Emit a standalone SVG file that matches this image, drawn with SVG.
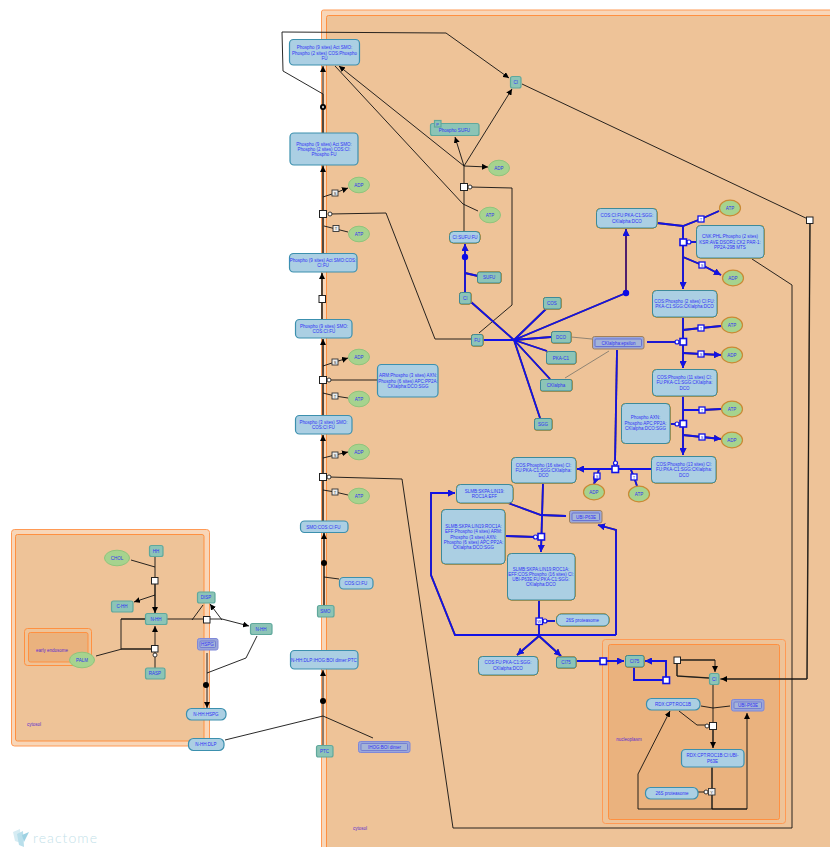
<svg xmlns="http://www.w3.org/2000/svg" width="830" height="847" viewBox="0 0 830 847">
<style>
text{font-family:"Liberation Sans",Arial,sans-serif;font-size:4.500px;fill:#3030f5;text-anchor:middle}
.co1{fill:#f8d6b8;stroke:#ff9a55;stroke-width:1}
.co2{fill:#eec398;stroke:#ff9040;stroke-width:1}
.co3{fill:#eab27e;stroke:#ff9040;stroke-width:1}
.lab{fill:#5a2bd0;text-anchor:middle}
.cx rect{fill:#abcfe3;stroke:#3c90ae;stroke-width:1.2}
.pr rect{fill:#8cc4b6;stroke:#5fa89c;stroke-width:1.2}
.sm ellipse{fill:#a6d38e;stroke:#8fc47c;stroke-width:1}
.st rect{fill:#9aa6da;stroke:#7f88d8;stroke-width:1}
.st rect+rect{fill:#a4b4d8;stroke:#6a74d0;stroke-width:.8}
.f ellipse{stroke:#c98a34;stroke-width:1.2}
.f.cx rect,.f.pr rect{stroke:#3d8a9a;stroke-width:1;filter:drop-shadow(0 0 .6px #f08a00) drop-shadow(0 0 .4px #f08a00)}
.f.st rect{stroke:#a0805c}
.f.st rect+rect{stroke:#5a64d0}
.k path{fill:none;stroke:#111;stroke-width:.9}
.kb path{fill:none;stroke:#6b5a45;stroke-width:1.5}
.b path{fill:none;stroke:#1212e6;stroke-width:1.800;filter:drop-shadow(0 0 .5px #7a4a10)}
.g path{fill:none;stroke:#77736a;stroke-width:.8}
.s{fill:#fff;stroke:#222;stroke-width:1}
.sb{fill:#fff;stroke:#1212e6;stroke-width:1.6}
.c{fill:#fff;stroke:#222;stroke-width:.9}
.cb{fill:#fff;stroke:#1212e6;stroke-width:1.2}
.t{fill:#eee;stroke:#333;stroke-width:.9}
.tb{fill:#fff;stroke:#1212e6;stroke-width:1.3}
.d{fill:#000}
.db{fill:#0a0ae6}
.tt{font-size:4px;fill:#333}
.ttb{font-size:4px;fill:#2222e0}
</style>
<defs>
<marker id="ak" viewBox="0 0 6 6" refX="6" refY="3" markerWidth="6" markerHeight="6" markerUnits="userSpaceOnUse" orient="auto"><path d="M0 0L6 3L0 6z" fill="#000"/></marker>
<marker id="ab" viewBox="0 0 6 6" refX="6" refY="3" markerWidth="7" markerHeight="7" markerUnits="userSpaceOnUse" orient="auto"><path d="M0 0L6 3L0 6z" fill="#1212e6"/></marker>
</defs>
<g id="compartments">
<rect class="co1" x="321.500" y="10" width="530" height="860" rx="2"/>
<rect class="co2" x="326.500" y="15.500" width="520" height="850" rx="2"/>
<rect class="co1" x="11.500" y="529.500" width="198" height="216.500" rx="3"/>
<rect class="co2" x="15.500" y="534.500" width="188.500" height="206.500" rx="2"/>
<rect class="co2" x="24.500" y="628.500" width="67" height="37" rx="3"/>
<rect class="co3" x="28.500" y="632.500" width="59.500" height="29.500" rx="2"/>
<rect class="co1" x="602.500" y="639.500" width="183" height="184" rx="3" style="fill:#eec398"/>
<rect class="co3" x="608.500" y="644.500" width="171" height="175" rx="2"/>
<text class="lab" x="52" y="651.500">early endosome</text>
<text class="lab" x="34" y="725.500">cytosol</text>
<text class="lab" x="360" y="829.500">cytosol</text>
<text class="lab" x="629" y="740.500">nucleoplasm</text>
</g>
<g id="connectors">
<g class="kb">
<path d="M323 133V94M323 253V165M322 319V273M323 415V339M323 521V435M324 605V533M464 231V166M155 581V613M155 649H122M121 619H145M712 767V809M713 726V748M677 663L677 676M677 660H715M709 678L677 676M807 679H720M810 220L807 679"/>
</g>
<g class="k">
<path d="M323 133V66" marker-end="url(#ak)"/>
<path d="M323 94L283 71L282 32L446 33L509 78" marker-end="url(#ak)"/>
<path d="M464 166L339 66" marker-end="url(#ak)"/>
<path d="M478 211L463 204L335 66"/>
<path d="M464 166L455 137" marker-end="url(#ak)"/>
<path d="M464 166L512 89" marker-end="url(#ak)"/>
<path d="M464 166L488 167" marker-end="url(#ak)"/>
<path d="M470 187L512 188V305L479 333"/>
<path d="M330 214L386 213L435 339H471"/>
<path d="M323 253V166" marker-end="url(#ak)"/>
<path d="M323 197L335 193L348 188" marker-end="url(#ak)"/>
<path d="M324 226L336 229L348 232"/>
<path d="M322 319V273" marker-end="url(#ak)"/>
<path d="M323 415V339" marker-end="url(#ak)"/>
<path d="M323 366L335 362L348 358" marker-end="url(#ak)"/>
<path d="M323 393L335 396L348 398"/>
<path d="M329 380H377"/>
<path d="M323 521V435" marker-end="url(#ak)"/>
<path d="M323 458L335 455L348 452" marker-end="url(#ak)"/>
<path d="M323 490L335 492L348 495"/>
<path d="M329 477L402 479L453 828H792V285L752 259"/>
<path d="M522 84L810 220L807 679H721" marker-end="url(#ak)"/>
<path d="M324 605V533" marker-end="url(#ak)"/>
<path d="M339 579L324 577"/>
<path d="M323 745V670" marker-end="url(#ak)"/>
<path d="M225 740L323 716L373 738"/>
<path d="M155 557V613" marker-end="url(#ak)"/>
<path d="M131 560L155 567"/>
<path d="M155 595L134 602" marker-end="url(#ak)"/>
<path d="M167 619H207H222L249 626" marker-end="url(#ak)"/>
<path d="M222 620L210 604" marker-end="url(#ak)"/>
<path d="M203 605L192 620"/>
<path d="M145 619H121V649H155"/>
<path d="M96 656L122 649"/>
<path d="M155 668V626" marker-end="url(#ak)"/>
<path d="M207 653V708" marker-end="url(#ak)"/>
<path d="M257 636L246 658L207 673"/>
<path d="M677 660H715V672" marker-end="url(#ak)"/>
<path d="M677 663V676L709 678"/>
<path d="M713 685V748" marker-end="url(#ak)"/>
<path d="M701 706L713 708L730 706"/>
<path d="M679 711L697 725H707"/>
<path d="M698 792H706"/>
<path d="M712 768V809"/>
<path d="M747 809H638V774L670 711" marker-end="url(#ak)"/>
<path d="M712 809H747V713" marker-end="url(#ak)"/>
</g>
<g class="g">
<path d="M571 337L592 339M565 378L609 351"/>
</g>
<g class="b">
<path d="M465 292V244" marker-end="url(#ab)"/>
<path d="M478 276L465 273"/>
<path d="M483 340H514L471 302M514 340L547 308M514 340L626 293M514 340L551 337M514 340L547 351M514 340L550 379M514 340L540 418"/>
<path d="M626 293V229" marker-end="url(#ab)" style="stroke:#4a1a78"/>
<path d="M657 223L683 226L701 219L719 211"/>
<path d="M683 226V289" marker-end="url(#ab)"/>
<path d="M683 257L702 265L721 275" marker-end="url(#ab)"/>
<path d="M683 242H696"/>
<path d="M683 317V368" marker-end="url(#ab)"/>
<path d="M683 330L701 328L721 326"/>
<path d="M683 353L701 354L721 355" marker-end="url(#ab)"/>
<path d="M647 342H677"/>
<path d="M683 396V455" marker-end="url(#ab)"/>
<path d="M683 410L702 410L721 409"/>
<path d="M683 435L702 437L721 439" marker-end="url(#ab)"/>
<path d="M670 424H677"/>
<path d="M651 469H577" marker-end="url(#ab)"/>
<path d="M617 350L615 463"/>
<path d="M599 469L597 476L594 484" marker-end="url(#ab)"/>
<path d="M631 470L634 477L637 486"/>
<path d="M543 483L541 552" marker-end="url(#ab)"/>
<path d="M506 536L535 537"/>
<path d="M508 503L541 515L566 516"/>
<path d="M539 600V635"/>
<path d="M545 621H555"/>
<path d="M539 636L517 655" marker-end="url(#ab)"/>
<path d="M539 636L561 656" marker-end="url(#ab)"/>
<path d="M616 635H455L431 575V493H455" marker-end="url(#ab)"/>
<path d="M616 635V530L598 525" marker-end="url(#ab)"/>
<path d="M576 661H624" marker-end="url(#ab)"/>
<path d="M634 667V680H666V661H645" marker-end="url(#ab)"/>
</g>
<circle class="d" cx="323" cy="107" r="3"/><circle cx="323" cy="107" r="1.200" fill="#bbb"/>
<circle class="d" cx="324" cy="563" r="3"/>
<circle class="d" cx="323" cy="701" r="3"/>
<circle class="d" cx="206" cy="685" r="3"/>
<circle class="db" cx="465" cy="257" r="3.200"/>
<circle class="db" cx="626" cy="293" r="3.200"/>
<rect class="s" x="319.500" y="210.500" width="7" height="7"/><circle class="c" cx="330" cy="214" r="2"/>
<rect class="s" x="460.500" y="183.500" width="7" height="7"/><circle class="c" cx="470" cy="187" r="2"/>
<rect class="s" x="319" y="295.500" width="6.500" height="7"/>
<rect class="s" x="319.500" y="376.500" width="7" height="7"/><circle class="c" cx="329" cy="380" r="2"/>
<rect class="s" x="319.500" y="473.500" width="7" height="7"/><circle class="c" cx="329" cy="477" r="2"/>
<rect class="s" x="806.500" y="217" width="6.500" height="6.500"/>
<rect class="s" x="151.500" y="577.500" width="6.500" height="6.500"/>
<rect class="s" x="151.500" y="645.500" width="6.500" height="6.500"/><circle class="c" cx="155" cy="655" r="2"/>
<rect class="s" x="203.500" y="616.500" width="6.500" height="6.500"/>
<rect class="s" x="674" y="657" width="6.500" height="6.500"/>
<rect class="s" x="709.500" y="722.500" width="7" height="7"/><circle class="c" cx="707" cy="726" r="2"/>
<circle class="c" cx="706" cy="792" r="2"/>
<rect class="sb" x="680" y="239" width="6.500" height="6.500"/><circle class="cb" cx="689" cy="242" r="2"/>
<rect class="sb" x="680" y="338.500" width="6.500" height="6.500"/><circle class="cb" cx="677" cy="342" r="2"/>
<rect class="sb" x="680" y="420.500" width="6.500" height="6.500"/><circle class="cb" cx="677" cy="424" r="2"/>
<rect class="sb" x="612" y="466" width="6.500" height="6.500"/><circle class="cb" cx="615.500" cy="463" r="2"/>
<rect class="sb" x="538" y="533.500" width="6.500" height="6.500"/><circle class="cb" cx="535.500" cy="537" r="2"/>
<circle class="cb" cx="545" cy="621" r="2"/>
<rect class="sb" x="600" y="658" width="6.500" height="6.500"/>
<rect class="sb" x="663" y="677" width="6.500" height="6.500"/>
<rect class="t" x="332" y="190" width="6" height="6"/><text class="tt" x="335" y="194.500">S</text>
<rect class="t" x="333" y="225.500" width="6" height="6"/><text class="tt" x="336" y="230">T</text>
<rect class="t" x="332" y="359" width="6" height="6"/><text class="tt" x="335" y="363.500">S</text>
<rect class="t" x="332" y="393" width="6" height="6"/><text class="tt" x="335" y="397.500">T</text>
<rect class="t" x="332" y="452" width="6" height="6"/><text class="tt" x="335" y="456.500">S</text>
<rect class="t" x="332" y="489" width="6" height="6"/><text class="tt" x="335" y="493.500">T</text>
<rect class="t" x="708.500" y="788.500" width="6.500" height="6.500"/><text class="tt" x="711.700" y="793.500">Y</text>
<rect class="tb" x="698" y="216" width="6" height="6"/><text class="ttb" x="701" y="220.500">T</text>
<rect class="tb" x="699" y="262" width="6" height="6"/><text class="ttb" x="702" y="266.500">S</text>
<rect class="tb" x="698" y="325" width="6" height="6"/><text class="ttb" x="701" y="329.500">T</text>
<rect class="tb" x="698" y="351" width="6" height="6"/><text class="ttb" x="701" y="355.500">S</text>
<rect class="tb" x="699" y="407" width="6" height="6"/><text class="ttb" x="702" y="411.500">T</text>
<rect class="tb" x="699" y="434" width="6" height="6"/><text class="ttb" x="702" y="438.500">S</text>
<rect class="tb" x="594" y="473" width="6" height="6"/><text class="ttb" x="597" y="477.500">S</text>
<rect class="tb" x="631" y="474" width="6" height="6"/><text class="ttb" x="634" y="478.500">T</text>
<rect class="tb" x="536" y="618" width="6.500" height="6.500"/><text class="ttb" x="539.200" y="623">W</text>
</g>
<g id="n1" class="cx"><rect x="289.500" y="39.500" width="70" height="25.500" rx="4"/><text x="324.500" y="49">Phospho (9 sites) Act SMO:</text><text x="324.500" y="54.500">Phospho (2 sites) COS:Phospho</text><text x="324.500" y="60">FU</text></g>
<g id="n2" class="cx"><rect x="290" y="133" width="68" height="32" rx="4"/><text x="324" y="146">Phospho (9 sites) Act SMO:</text><text x="324" y="151">Phospho (2 sites) COS:CI:</text><text x="324" y="156">Phospho FU</text></g>
<g id="n3" class="cx"><rect x="289.500" y="253.500" width="67.500" height="18.500" rx="4"/><text x="323" y="261.500">Phospho (9 sites) Act SMO:COS:</text><text x="323" y="267">CI:FU</text></g>
<g id="n4" class="cx"><rect x="295.500" y="319.500" width="56.500" height="18.500" rx="4"/><text x="324" y="327.500">Phospho (9 sites) SMO:</text><text x="324" y="332.500">COS:CI:FU</text></g>
<g id="n5" class="cx"><rect x="295.500" y="415.500" width="56.500" height="18.500" rx="4"/><text x="323.500" y="424">Phospho (3 sites) SMO:</text><text x="323.500" y="429">COS:CI:FU</text></g>
<g id="n6" class="cx"><rect x="377.500" y="364.500" width="60.500" height="32.500" rx="4"/><text x="408" y="377">ARM:Phospho (3 sites) AXN:</text><text x="408" y="382.500">Phospho (6 sites) APC:PP2A:</text><text x="408" y="387.500">CKIalpha:DCO:SGG</text></g>
<g id="n7" class="cx"><rect x="300.500" y="521" width="47.500" height="11.500" rx="4"/><text x="323.500" y="528.500">SMO:COS:CI:FU</text></g>
<g id="n8" class="cx"><rect x="339.500" y="577.500" width="33.500" height="11.500" rx="4"/><text x="356" y="585">COS:CI:FU</text></g>
<g id="n9" class="cx"><rect x="290.500" y="650.500" width="67.500" height="18.500" rx="4"/><text x="324" y="661.500">N-HH:DLP:IHOG:BOI dimer:PTC</text></g>
<g id="n10" class="pr"><rect x="317.500" y="605.500" width="16.500" height="11.500" rx="2"/><text x="325.500" y="612.800">SMO</text></g>
<g id="n11" class="pr"><rect x="316.500" y="745.500" width="16.500" height="11.500" rx="2"/><text x="324.500" y="753">PTC</text></g>
<g id="n12" class="st"><rect x="358.500" y="741.500" width="51.500" height="11" rx="2"/><rect x="361" y="743.500" width="46.500" height="7" rx="1"/><text x="384.500" y="748.700">IHOG:BOI dimer</text></g>
<g id="n13" class="pr"><rect x="430.500" y="123.500" width="48.500" height="12" rx="2"/><text x="454.500" y="131.500">Phospho SUFU</text><rect x="434.500" y="120.500" width="6.500" height="6.500"/><text class="ttb" x="437.700" y="125.500">P</text></g>
<g id="n14" class="pr"><rect x="510.500" y="76.500" width="10.500" height="11.500" rx="2"/><text x="515.800" y="84">CI</text></g>
<g id="n15" class="sm"><ellipse cx="499" cy="168" rx="10.500" ry="7.800"/><text x="499" y="170">ADP</text></g>
<g id="n16" class="sm"><ellipse cx="490" cy="215" rx="10.500" ry="7.800"/><text x="490" y="217">ATP</text></g>
<g id="n17" class="sm"><ellipse cx="359" cy="185" rx="10.500" ry="7.800"/><text x="359" y="187">ADP</text></g>
<g id="n18" class="sm"><ellipse cx="359" cy="234" rx="10.500" ry="7.800"/><text x="359" y="236">ATP</text></g>
<g id="n19" class="sm"><ellipse cx="359" cy="357" rx="10.500" ry="7.800"/><text x="359" y="359">ADP</text></g>
<g id="n20" class="sm"><ellipse cx="359" cy="399" rx="10.500" ry="7.800"/><text x="359" y="401">ATP</text></g>
<g id="n21" class="sm"><ellipse cx="359" cy="452" rx="10.500" ry="7.800"/><text x="359" y="454">ADP</text></g>
<g id="n22" class="sm"><ellipse cx="359" cy="496" rx="10.500" ry="7.800"/><text x="359" y="498">ATP</text></g>
<g id="n23" class="cx f"><rect x="449.500" y="231.500" width="30.500" height="11.500" rx="4"/><text x="465" y="238.800">CI:SUFU:FU</text></g>
<g id="n24" class="pr f"><rect x="477.500" y="272" width="23.500" height="11" rx="2"/><text x="489" y="279">SUFU</text></g>
<g id="n25" class="pr f"><rect x="459.500" y="292.500" width="11.500" height="11.500" rx="2"/><text x="465.200" y="299.800">CI</text></g>
<g id="n26" class="pr f"><rect x="471.500" y="334.500" width="11.500" height="11.500" rx="2"/><text x="477.200" y="341.800">FU</text></g>
<g id="n27" class="pr f"><rect x="543.500" y="297.500" width="17.500" height="11.500" rx="2"/><text x="552" y="304.800">COS</text></g>
<g id="n28" class="pr f"><rect x="551.500" y="331.500" width="19.500" height="11.500" rx="2"/><text x="561" y="338.800">DCO</text></g>
<g id="n29" class="pr f"><rect x="546.500" y="351.500" width="29.500" height="12.500" rx="2"/><text x="561" y="359.500">PKA-C1</text></g>
<g id="n30" class="pr f"><rect x="540.500" y="379.500" width="31.500" height="11.500" rx="2"/><text x="556" y="386.800">CKIalpha</text></g>
<g id="n31" class="pr f"><rect x="534.500" y="418.500" width="17.500" height="11.500" rx="2"/><text x="543" y="425.800">SGG</text></g>
<g id="n32" class="st f"><rect x="592.500" y="336.500" width="51.500" height="12.500" rx="2"/><rect x="595" y="339" width="46.500" height="7.500" rx="1"/><text x="618.500" y="344.500">CKIalpha:epsilon</text></g>
<g id="n33" class="cx f"><rect x="596.500" y="208.500" width="60.500" height="19.500" rx="4"/><text x="627" y="217">COS:CI:FU:PKA-C1:SGG:</text><text x="627" y="222.500">CKIalpha:DCO</text></g>
<g id="n34" class="cx f"><rect x="696.500" y="225.500" width="67.500" height="32.500" rx="4"/><text x="730" y="238">CNK:PHL:Phospho (2 sites)</text><text x="730" y="243.500">KSR:AVE:DSOR1:CK2 PAR-1:</text><text x="730" y="248.500">PP2A-29B MTS</text></g>
<g id="n35" class="cx f"><rect x="652.500" y="290.500" width="64.500" height="26.500" rx="4"/><text x="684.500" y="302.500">COS:Phospho (2 sites) CI:FU:</text><text x="684.500" y="307.500">PKA-C1:SGG:CKIalpha:DCO</text></g>
<g id="n36" class="cx f"><rect x="652.500" y="369.500" width="64.500" height="26.500" rx="4"/><text x="684.500" y="379">COS:Phospho (11 sites) CI:</text><text x="684.500" y="384">FU:PKA-C1:SGG:CKIalpha:</text><text x="684.500" y="389.500">DCO</text></g>
<g id="n37" class="cx f"><rect x="651.500" y="456.500" width="64.500" height="26.500" rx="4"/><text x="684" y="466">COS:Phospho (13 sites) CI:</text><text x="684" y="471">FU:PKA-C1:SGG:CKIalpha:</text><text x="684" y="476.500">DCO</text></g>
<g id="n38" class="cx f"><rect x="621.500" y="403.500" width="48.500" height="40" rx="4"/><text x="645.500" y="419">Phospho AXN:</text><text x="645.500" y="424.500">Phospho APC:PP2A:</text><text x="645.500" y="429.500">CKIalpha:DCO:SGG</text></g>
<g id="n39" class="cx f"><rect x="511.500" y="457.500" width="64.500" height="25.500" rx="4"/><text x="543.500" y="466.500">COS:Phospho (16 sites) CI:</text><text x="543.500" y="471.500">FU:PKA-C1:SGG:CKIalpha:</text><text x="543.500" y="477">DCO</text></g>
<g id="n40" class="cx f"><rect x="456.500" y="484.500" width="56.500" height="18.500" rx="4"/><text x="484.500" y="492.500">SLMB:SKPA:LIN19:</text><text x="484.500" y="497.500">ROC1A:EFF</text></g>
<g id="n41" class="cx f"><rect x="441.500" y="509.500" width="63.500" height="54.500" rx="4"/><text x="473.500" y="528">SLMB:SKPA:LIN19:ROC1A:</text><text x="473.500" y="533">EFF:Phospho (4 sites) ARM:</text><text x="473.500" y="538.500">Phospho (3 sites) AXN:</text><text x="473.500" y="543.500">Phospho (6 sites) APC:PP2A:</text><text x="473.500" y="549">CKIalpha:DCO:SGG</text></g>
<g id="n42" class="cx f"><rect x="507.500" y="553.500" width="67.500" height="46.500" rx="4"/><text x="541" y="570.500">SLMB:SKPA:LIN19:ROC1A:</text><text x="541" y="576">EFF:COS:Phospho (16 sites) CI:</text><text x="541" y="581">UBI-P63E:FU:PKA-C1:SGG:</text><text x="541" y="586">CKIalpha:DCO</text></g>
<g id="n43" class="st f"><rect x="569.500" y="510.500" width="32.500" height="12.500" rx="2"/><rect x="572" y="513" width="27.500" height="7.500" rx="1"/><text x="586" y="518.500">UBI-P63E</text></g>
<g id="n44" class="cx f"><rect x="556.500" y="614" width="52.500" height="12" rx="5"/><text x="582.500" y="621.800">26S proteasome</text></g>
<g id="n45" class="cx f"><rect x="478.500" y="656.500" width="59.500" height="18.500" rx="4"/><text x="508" y="664">COS:FU:PKA-C1:SGG:</text><text x="508" y="669.500">CKIalpha:DCO</text></g>
<g id="n46" class="pr f"><rect x="556.500" y="657" width="19.500" height="11" rx="2"/><text x="566" y="664">CI75</text></g>
<g id="n47" class="pr f"><rect x="625.500" y="655.500" width="18.500" height="11.500" rx="2"/><text x="634.500" y="663">CI75</text></g>
<g id="n48" class="sm f"><ellipse cx="730" cy="208" rx="10.500" ry="7.800"/><text x="730" y="210">ATP</text></g>
<g id="n49" class="sm f"><ellipse cx="733" cy="278" rx="10.500" ry="7.800"/><text x="733" y="280">ADP</text></g>
<g id="n50" class="sm f"><ellipse cx="732" cy="325" rx="10.500" ry="7.800"/><text x="732" y="327">ATP</text></g>
<g id="n51" class="sm f"><ellipse cx="732" cy="355" rx="10.500" ry="7.800"/><text x="732" y="357">ADP</text></g>
<g id="n52" class="sm f"><ellipse cx="732" cy="409" rx="10.500" ry="7.800"/><text x="732" y="411">ATP</text></g>
<g id="n53" class="sm f"><ellipse cx="732" cy="440" rx="10.500" ry="7.800"/><text x="732" y="442">ADP</text></g>
<g id="n54" class="sm f"><ellipse cx="594" cy="492" rx="10.500" ry="7.800"/><text x="594" y="494">ADP</text></g>
<g id="n55" class="sm f"><ellipse cx="639" cy="494" rx="10.500" ry="7.800"/><text x="639" y="496">ATP</text></g>
<g id="n56" class="pr"><rect x="709.500" y="673.500" width="9.500" height="11" rx="2"/><text x="714.200" y="681">CI</text></g>
<g id="n57" class="cx"><rect x="646.500" y="698.500" width="53.500" height="11.500" rx="5"/><text x="673" y="705.800">RDX:CPT:ROC1B</text></g>
<g id="n58" class="st"><rect x="731.500" y="699.500" width="32.500" height="11.500" rx="2"/><rect x="734" y="702" width="27.500" height="6.500" rx="1"/><text x="748" y="707">UBI-P63E</text></g>
<g id="n59" class="cx"><rect x="681.500" y="749.500" width="62.500" height="17.500" rx="4"/><text x="712.500" y="757">RDX:CPT:ROC1B:CI:UBI-</text><text x="712.500" y="762.500">P63E</text></g>
<g id="n60" class="cx"><rect x="645.500" y="787.500" width="52.500" height="11.500" rx="5"/><text x="672" y="795">26S proteasome</text></g>
<g id="n61" class="sm"><ellipse cx="117" cy="558" rx="12.500" ry="7.800"/><text x="117" y="560">CHOL</text></g>
<g id="n62" class="pr"><rect x="149.500" y="545.500" width="13.500" height="11" rx="2"/><text x="156" y="552.800">HH</text></g>
<g id="n63" class="pr"><rect x="111.500" y="601" width="21.500" height="11" rx="2"/><text x="122" y="608.300">C-HH</text></g>
<g id="n64" class="pr"><rect x="145.500" y="613.500" width="21.500" height="11" rx="2"/><text x="156" y="621">N-HH</text></g>
<g id="n65" class="sm"><ellipse cx="82" cy="660" rx="12.500" ry="7.800"/><text x="82" y="662">PALM</text></g>
<g id="n66" class="pr"><rect x="145.500" y="668" width="19.500" height="11" rx="2"/><text x="155" y="675.300">RASP</text></g>
<g id="n67" class="pr"><rect x="197.500" y="592" width="17.500" height="11" rx="2"/><text x="206" y="599.300">DISP</text></g>
<g id="n68" class="pr"><rect x="250.500" y="623.500" width="21.500" height="11" rx="2"/><text x="261" y="631">N-HH</text></g>
<g id="n69" class="st"><rect x="197.500" y="638.500" width="20.500" height="11.500" rx="2"/><rect x="200" y="641" width="15.500" height="6.500" rx="1"/><text x="207.500" y="646">HSPG</text></g>
<g id="n70" class="cx"><rect x="186.500" y="708.500" width="39.500" height="11.500" rx="5"/><text x="206" y="715.800">N-HH:HSPG</text></g>
<g id="n71" class="cx"><rect x="188.500" y="738.500" width="35.500" height="12" rx="5"/><text x="206" y="746.300">N-HH:DLP</text></g>
<g id="logo">
<path d="M13 832L20 829L21 843L15 841z" fill="#d6ecf3"/>
<path d="M17 834L23 831L24 847L19 845z" fill="#b9dfeb"/>
<path d="M22 835L29 832L24 842z" fill="#9ed2e3"/>
<text x="33" y="843" textLength="64" style="font-family:Lato,sans-serif;font-size:14px;font-weight:300;fill:#c3dfe9;text-anchor:start">reactome</text>
</g>
</svg>
